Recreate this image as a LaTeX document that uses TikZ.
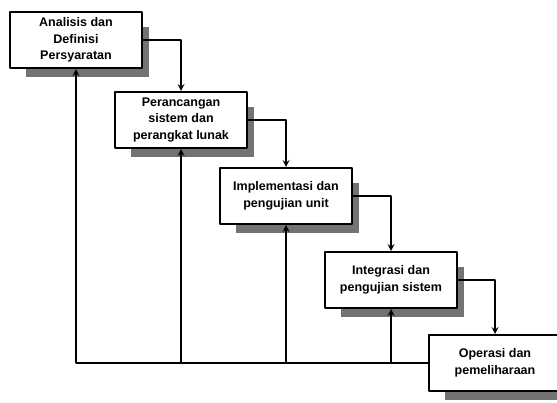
\documentclass[tikz,border=0pt]{standalone}
\usepackage{fontspec}
\setmainfont{Liberation Sans}
\usetikzlibrary{backgrounds}
\begin{document}
\begin{tikzpicture}[x=1pt,y=-1pt,line join=round,>=stealth]
	\tikzset{tahap/.style={draw,line width=2pt,fill=white,align=center,
			minimum width=132pt,minimum height=56pt,inner sep=2pt,
			font=\bfseries\fontsize{12.5}{16.5}\selectfont},
		bayang/.style={fill=black!55},
		alur/.style={line width=2pt}}
	\clip (0,0) rectangle (557,402);
	\def \dx{17} \def \dy{16}
	% tahap-tahap waterfall
	\node[tahap] (a) at (76,40) {Analisis dan\\Definisi\\Persyaratan};
	\node[tahap] (b) at (181,120) {Perancangan\\sistem dan\\perangkat lunak};
	\node[tahap] (c) at (286,196) {Implementasi dan\\pengujian unit};
	\node[tahap] (d) at (391,280) {Integrasi dan\\pengujian sistem};
	\node[tahap] (e) at (495,363) {Operasi dan\\pemeliharaan};
	% bayangan di kanan dan bawah
	\begin{pgfonlayer}{background}
		\foreach \k in {a,b,c,d,e}
		\fill[bayang] ([xshift=\dx,yshift=-\dy]\k.north west) rectangle ([xshift=6,yshift=-8]\k.south east);
	\end{pgfonlayer}
	% alur maju
	\foreach \u/\v in {a/b,b/c,c/d,d/e}
	\draw[alur,->] (\u.east) -| (\v.north);
	% alur balik
	\draw[alur,->] (e.west) -| (a.south);
	\foreach \k in {b,c,d}
	\draw[alur,->] (\k.south |- e.west) -- (\k.south);
\end{tikzpicture}
\end{document}
